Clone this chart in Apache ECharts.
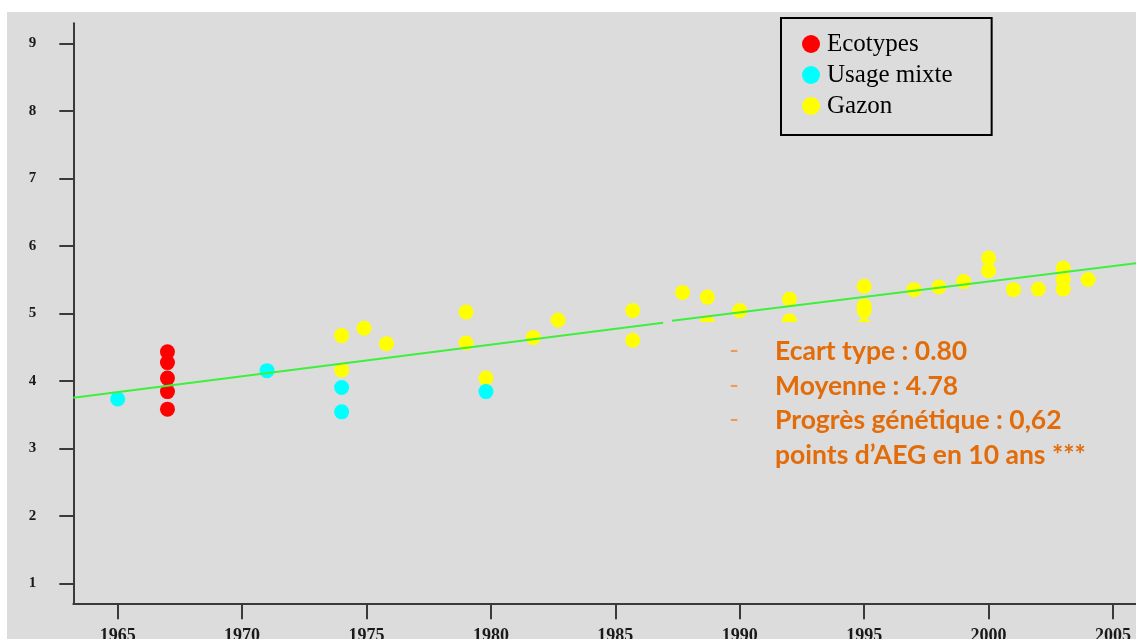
<!DOCTYPE html>
<html>
<head>
<meta charset="utf-8">
<script src="https://cdn.jsdelivr.net/npm/echarts@6/dist/echarts.min.js"></script>
<style>
html,body{margin:0;padding:0;background:#fff;}
#main{position:absolute;left:0;top:0;width:1136px;height:639px;
background:linear-gradient(#dcdcdc,#dcdcdc) 7px 12px / 1129px 627px no-repeat,#fff;}
</style>
</head>
<body>
<div id="main"></div>
<script>
// ---- data ----
const legendNames = ['Ecotypes', 'Usage mixte', 'Gazon'];
const xTicks = [1965, 1970, 1975, 1980, 1985, 1990, 1995, 2000, 2005];
const yTicks = [1, 2, 3, 4, 5, 6, 7, 8, 9];
const xRange = [1963.216, 2005.924];
const yRange = [0.7037, 9.2963];

const ecotypesX = [1967, 1967, 1967, 1967, 1967];
const ecotypesY = [4.43, 4.27, 4.04, 3.84, 3.58];

const mixteX = [1965, 1971, 1974, 1974, 1979.8];
const mixteY = [3.73, 4.15, 3.90, 3.54, 3.84];

const gazonX = [1974, 1974, 1974.9, 1975.8, 1979, 1979, 1979.8, 1981.7, 1982.7, 1985.7, 1985.7,
  1987.7, 1988.7, 1988.7, 1990, 1992, 1992, 1995, 1995, 1995, 1995, 1997, 1998, 1999,
  2000, 2000, 2001, 2002, 2003, 2003, 2003, 2004];
const gazonY = [4.67, 4.16, 4.78, 4.55, 5.02, 4.56, 4.04, 4.64, 4.90, 5.04, 4.60,
  5.31, 5.24, 4.86, 5.04, 5.21, 4.89, 5.40, 5.11, 5.04, 4.82, 5.35, 5.39, 5.47,
  5.82, 5.63, 5.35, 5.36, 5.67, 5.50, 5.36, 5.50];

const trendX = [1963.216, 1986.92, '-', 1987.28, 2005.924];
const trendY = [3.75, 4.86, '-', 4.89, 5.74];

const noteLines = ['Ecart type : 0.80', 'Moyenne : 4.78', 'Progrès génétique : 0,62', 'points d\u2019AEG en 10 ans ***'];
const noteDash = [true, true, true, false];

// ---- chart ----
const zip = (xs, ys) => xs.map((x, i) => [x, ys[i]]);
const chart = echarts.init(document.getElementById('main'));

const noteY = [351, 386, 420, 455];
const graphics = [
  { type: 'rect', z: 50, shape: { x: 690, y: 322, width: 440, height: 150 }, style: { fill: '#dcdcdc' } }
];
noteLines.forEach((t, i) => {
  graphics.push({ type: 'text', z: 51, x: 775, y: noteY[i],
    style: { text: t, fill: '#e36c0a', font: 'bold 26.5px Lato', verticalAlign: 'middle', align: 'left' } });
  if (noteDash[i]) graphics.push({ type: 'text', z: 51, x: 734, y: noteY[i],
    style: { text: '-', fill: '#ee9a55', font: '26px Lato', verticalAlign: 'middle', align: 'center' } });
});

const axisLineStyle = { color: '#3a3a3a', width: 2 };
const symbolSize = 15;

chart.setOption({
  animation: false,
  backgroundColor: 'transparent',
  grid: { left: 73.3, top: 23.3, right: 0, bottom: 35.7, outerBoundsMode: 'none', containLabel: false },
  xAxis: {
    type: 'value', min: xRange[0], max: xRange[1],
    splitLine: { show: false },
    axisLine: { show: true, lineStyle: axisLineStyle },
    axisTick: { show: true, customValues: xTicks, length: 16, lineStyle: { color: '#3a3a3a', width: 2 } },
    axisLabel: { customValues: xTicks, margin: 24, color: '#1a1a1a', fontFamily: 'Liberation Serif',
      fontWeight: 'bold', fontSize: 18, formatter: v => String(v) }
  },
  yAxis: {
    type: 'value', min: yRange[0], max: yRange[1],
    splitLine: { show: false },
    axisLine: { show: true, lineStyle: axisLineStyle },
    axisTick: { show: true, customValues: yTicks, length: 14, lineStyle: { color: '#3a3a3a', width: 2 } },
    axisLabel: { customValues: yTicks, margin: 37, color: '#1a1a1a', fontFamily: 'Liberation Serif',
      fontWeight: 'bold', fontSize: 15, padding: [0, 0, 8, 0], formatter: v => String(v) }
  },
  legend: {
    orient: 'vertical', left: 781, top: 18,
    padding: [13, 39, 16, 21],
    itemWidth: 22, itemHeight: 18, itemGap: 5, icon: 'circle',
    borderColor: '#000', borderWidth: 2, backgroundColor: '#dcdcdc',
    textStyle: { fontFamily: 'Liberation Serif', fontSize: 25, color: '#000', lineHeight: 26 },
    data: legendNames
  },
  series: [
    { name: 'Gazon', type: 'scatter', symbolSize, itemStyle: { color: '#ffff00', opacity: 1 }, data: zip(gazonX, gazonY), z: 2 },
    { name: 'Usage mixte', type: 'scatter', symbolSize, itemStyle: { color: '#00ffff', opacity: 1 }, data: zip(mixteX, mixteY), z: 3 },
    { name: 'Ecotypes', type: 'scatter', symbolSize, itemStyle: { color: '#ff0000', opacity: 1 }, data: zip(ecotypesX, ecotypesY), z: 4 },
    { name: 'trend', type: 'line', showSymbol: false, symbol: 'none', z: 5, silent: true,
      lineStyle: { color: '#3ef03e', width: 2 }, data: zip(trendX, trendY) }
  ],
  graphic: graphics
});
</script>
</body>
</html>
